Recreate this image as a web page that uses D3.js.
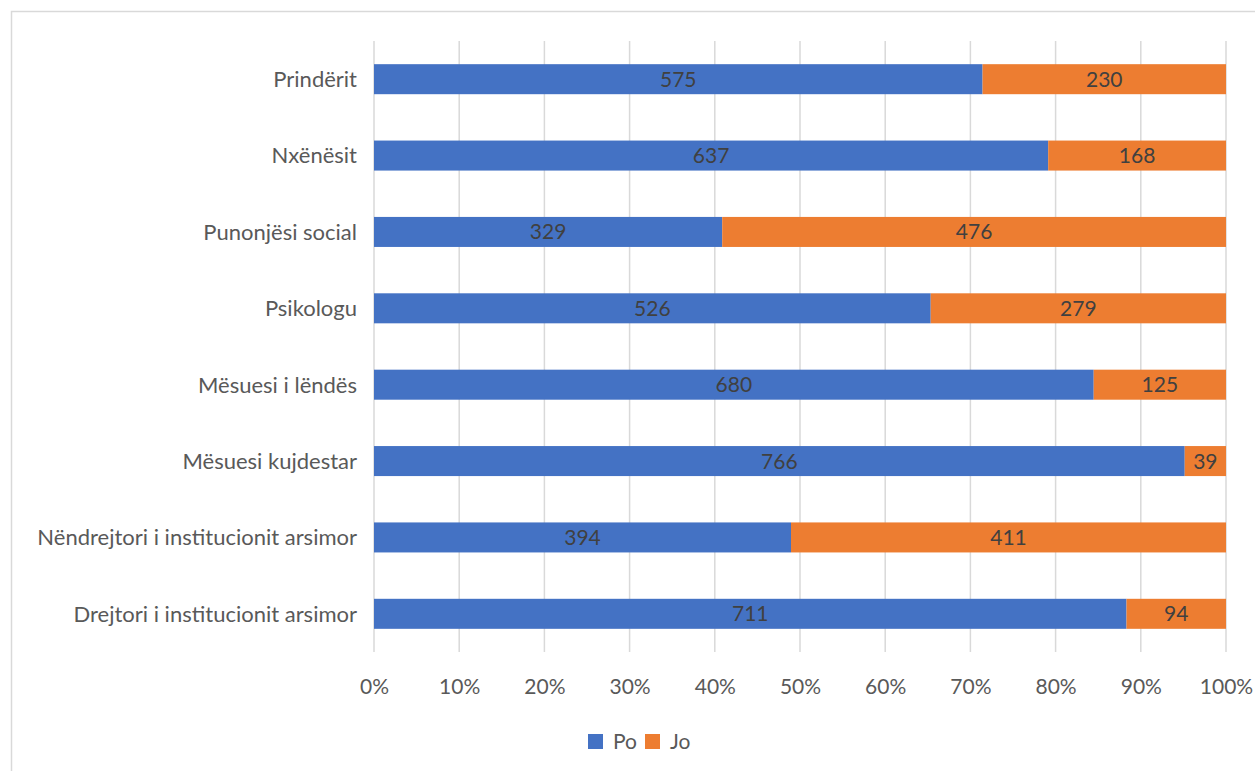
<!DOCTYPE html>
<html><head><meta charset="utf-8">
<script src="https://cdn.jsdelivr.net/npm/d3@7"></script>
<style>body{margin:0;background:#fff;}svg{display:block;font-family:Lato,"Open Sans",sans-serif;}</style>
</head><body>
<svg id="c" width="1255" height="771"></svg>
<script>
const categories = ["Prindërit","Nxënësit","Punonjësi social","Psikologu","Mësuesi i lëndës","Mësuesi kujdestar","Nëndrejtori i institucionit arsimor","Drejtori i institucionit arsimor"];
const po = [575,637,329,526,680,766,394,711];
const jo = [230,168,476,279,125,39,411,94];
const seriesNames = ["Po","Jo"];
const seriesColors = ["#4472C4","#ED7D31"];
const tickValues = [0,0.1,0.2,0.3,0.4,0.5,0.6,0.7,0.8,0.9,1];

(function(){
const svg = d3.select("#c");
svg.append("rect").attr("x",11.5).attr("y",11.5).attr("width",1300).attr("height",900)
  .attr("fill","#fff").attr("stroke","#D9D9D9").attr("stroke-width",1.5);

const pl=374, pr=1226, pt=41, pb=652;
const x = d3.scaleLinear().domain([0,1]).range([pl,pr]);
const y = d3.scaleBand().domain(categories).range([pt,pb]).paddingInner(0.607).paddingOuter(0.3035);

svg.append("g").selectAll("line").data(tickValues).join("line")
  .attr("x1",d=>x(d)).attr("x2",d=>x(d)).attr("y1",pt).attr("y2",pb)
  .attr("stroke","#D9D9D9").attr("stroke-width",1.5);

const rows = categories.map((c,i)=>({c, vals:[po[i],jo[i]], total:po[i]+jo[i]}));
const stack = d3.stack().keys([0,1]).value((d,k)=>d.vals[k]/d.total)(rows);

stack.forEach((layer,k)=>{
  const g = svg.append("g");
  g.selectAll("rect").data(layer).join("rect")
    .attr("x",d=>x(d[0])).attr("width",d=>x(d[1])-x(d[0]))
    .attr("y",d=>y(d.data.c)).attr("height",y.bandwidth())
    .attr("fill",seriesColors[k]);
  g.selectAll("text").data(layer).join("text")
    .attr("x",d=>(x(d[0])+x(d[1]))/2).attr("y",d=>y(d.data.c)+y.bandwidth()/2)
    .attr("dy","0.36em").attr("text-anchor","middle")
    .attr("font-size",21).attr("fill","#404040")
    .text(d=>d.data.vals[k]);
});

svg.append("g").selectAll("text").data(categories).join("text")
  .attr("x",pl-17).attr("y",d=>y(d)+y.bandwidth()/2).attr("dy","0.36em")
  .attr("text-anchor","end").attr("font-size",22).attr("fill","#595959").text(d=>d);

const xAxis = d3.axisBottom(x).tickValues(tickValues).tickFormat(d3.format(".0%")).tickSize(0).tickPadding(0);
const ax = svg.append("g").attr("transform",`translate(0,686)`).call(xAxis);
ax.select(".domain").remove();
ax.selectAll("text").attr("font-size",21).attr("fill","#595959").attr("font-family","Lato,'Open Sans',sans-serif").attr("dy","0.36em").attr("y",0);

const leg = svg.append("g");
const lx = [588,645];
seriesNames.forEach((n,i)=>{
  leg.append("rect").attr("x",lx[i]).attr("y",734).attr("width",15).attr("height",15).attr("fill",seriesColors[i]);
  leg.append("text").attr("x",lx[i]+25).attr("y",741.5).attr("dy","0.36em").attr("font-size",21).attr("fill","#595959").text(n);
});
})();
</script>
</body></html>
